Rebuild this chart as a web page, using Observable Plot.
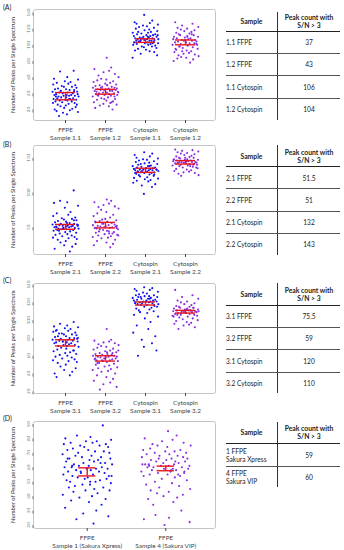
<!DOCTYPE html>
<html><head><meta charset="utf-8">
<script src="https://cdn.jsdelivr.net/npm/d3@7"></script>
<script src="https://cdn.jsdelivr.net/npm/@observablehq/plot@0.6"></script>
<style>
body{margin:0;background:#fff;width:344px;height:550px;position:relative;overflow:hidden;font-family:Lato,"Open Sans",sans-serif;}
.pl{position:absolute;left:0;}
.lab{position:absolute;left:3px;font-size:7px;color:#222;line-height:8px;}
table{position:absolute;left:226px;width:114px;border-collapse:collapse;font-size:6.6px;color:#222;table-layout:fixed;}
td,th{padding:0;}
th{font-weight:bold;text-align:center;line-height:8px;border-bottom:1.5px solid #222;font-size:6.8px;}
td:first-child,th:first-child{border-right:1.3px solid #333;width:51px;}
td{text-align:center;line-height:8px;}
td:first-child{text-align:left;}
tr.r td{border-bottom:1.2px solid #555;}
</style></head><body>
<div class="lab" style="top:3px">(A)</div>
<div class="lab" style="top:140px">(B)</div>
<div class="lab" style="top:276px">(C)</div>
<div class="lab" style="top:414px">(D)</div>
<div id="pA" class="pl" style="top:0px"></div>
<div id="pB" class="pl" style="top:136px"></div>
<div id="pC" class="pl" style="top:274px"></div>
<div id="pD" class="pl" style="top:412px"></div>
<div id="tables"></div>
<script>
// ---------- data ----------
const labelsA = ["FFPE\nSample 1.1","FFPE\nSample 1.2","Cytospin\nSample 1.1","Cytospin\nSample 1.2"];
const labelsB = ["FFPE\nSample 2.1","FFPE\nSample 2.2","Cytospin\nSample 2.1","Cytospin\nSample 2.2"];
const labelsC = ["FFPE\nSample 3.1","FFPE\nSample 3.2","Cytospin\nSample 3.1","Cytospin\nSample 3.2"];
const labelsD = ["FFPE\nSample 1 (Sakura Xpress)","FFPE\nSample 4 (Sakura VIP)"];

const ticksA = [20,40,60,80,100,120,140];
const ticksB = [50,100,150];
const ticksC = [20,40,60,80,100,120,140];
const ticksD = [20,30,40,50,60,70,80,90];

const A_FFPE11 = [68,67,60,58,57,55,54,53,52,51,50,49,48,48,47,46,45,45,44,44,43,42,42,41,41,40,40,39,39,38,38,38,37,37,37,36,36,35,35,34,34,33,33,32,32,31,31,30,30,29,28,28,27,26,26,25,24,23,22,21,20,19,18,17,16,14,12,42,36,33];
const A_FFPE12 = [84,72,70,68,66,64,62,60,58,57,56,55,54,53,52,51,50,50,49,48,48,47,47,46,46,45,45,44,44,44,43,43,43,42,42,41,41,40,40,39,39,38,38,37,37,36,35,34,33,32,31,30,29,28,27,26,25,24,22,20,45,41,38,50,47,36,33,29];
const A_CYTO11 = [137,130,128,127,126,125,124,123,122,121,120,119,118,117,116,116,115,115,114,113,113,112,112,111,111,110,110,109,109,108,108,108,107,107,107,106,106,106,105,105,105,104,104,104,103,103,102,102,101,101,100,100,99,98,98,97,96,95,94,93,92,91,89,87,84,110,104,102,108,112];
const A_CYTO12 = [128,126,124,122,121,120,119,118,117,116,115,114,113,112,112,111,110,110,109,108,108,107,107,106,106,105,105,104,104,103,103,102,102,101,100,100,99,98,97,96,95,94,93,92,91,90,89,88,87,86,85,84,83,82,80,78,106,101,98,110,95,113,92];

const B_FFPE21 = [103,88,86,85,81,78,72,70,68,66,64,63,62,61,60,59,58,57,56,55,55,54,54,53,53,52,52,52,51,51,51,50,50,49,49,48,48,47,47,46,46,45,44,43,42,41,40,39,38,37,36,35,34,33,32,30,28,26,24,22,19,15,50,53,48,56,45,60];
const B_FFPE22 = [90,88,86,84,82,80,79,77,75,72,70,68,66,64,62,60,59,58,57,56,55,54,53,53,52,52,51,51,51,50,50,49,49,48,47,46,45,44,43,42,41,40,39,38,37,36,35,34,32,30,28,26,24,21,55,49,47,44,58,41,61,38];
const B_CYTO21 = [158,156,154,152,150,149,148,147,146,145,144,143,142,141,140,139,138,138,137,136,136,135,135,134,134,133,133,133,132,132,132,131,131,130,130,129,129,128,128,127,126,125,124,123,122,121,120,119,118,117,116,114,112,110,108,98,133,130,135,128,138,126,141];
const B_CYTO22 = [162,161,160,159,158,157,156,155,154,153,152,151,150,150,149,148,148,147,147,146,146,145,145,144,144,144,143,143,143,142,142,141,141,140,140,139,139,138,137,136,135,134,133,132,131,130,129,128,127,125,124,145,142,140,147,138,150,136,144];

const C_FFPE31 = [98,96,94,93,92,91,90,89,88,87,86,85,84,84,83,82,82,81,80,80,79,79,78,78,77,77,76,76,75,75,74,74,73,72,72,71,70,69,68,67,66,65,64,63,62,61,60,59,58,57,56,55,54,53,52,50,48,46,44,42,40,38,36,80,76,71,85,66,88];
const C_FFPE32 = [90,78,77,76,75,74,73,72,71,70,69,68,67,66,65,64,63,62,62,61,61,60,60,59,59,59,58,58,57,57,56,56,55,55,54,54,53,52,51,50,49,48,47,46,45,44,43,42,40,38,36,34,32,30,28,25,22,60,57,63,55,66,52,64];
const C_CYTO31 = [137,136,135,134,133,132,131,130,129,128,128,127,127,126,126,125,125,124,124,123,123,122,122,122,121,121,121,120,120,120,119,119,118,118,117,117,116,115,114,113,112,111,110,109,108,106,104,102,98,94,90,86,82,78,74,70,66,60,121,119,124,117,126,115];
const C_CYTO32 = [134,128,126,124,122,121,120,119,118,117,116,115,115,114,114,113,113,112,112,111,111,111,110,110,110,109,109,109,108,108,107,107,106,106,105,105,104,103,102,101,100,99,98,97,96,95,94,92,90,110,108,112,106,114,104,111,109];

const D_S1 = [89,82,81,80,79,78,78,77,77,76,76,75,75,74,74,73,72,72,71,71,70,70,69,68,68,67,67,66,66,65,65,64,64,63,63,62,62,61,61,60,60,60,59,59,59,58,58,57,57,56,56,55,55,54,54,53,53,52,52,51,51,50,50,49,48,48,47,46,46,45,44,44,43,42,41,40,39,38,37,36,34,32,30,28,26,24,21,66,63,57,54,61,50];
const D_S4 = [85,82,80,79,78,77,76,75,75,74,73,72,72,71,71,70,70,69,69,68,68,67,67,66,66,65,65,64,64,63,63,62,62,62,61,61,61,60,60,60,59,59,59,58,58,57,57,56,56,55,55,54,54,53,52,51,50,49,48,47,46,45,44,43,42,41,40,39,38,36,34,30,27,25,24,22,20,64,61,58,62,57,66,55];

// error bars (low, high) per group
const barsA = [[32,41],[39,45],[103,107.5],[100,106]];
const barsB = [[47,54],[49,57],[129,135],[141,146]];
const barsC = [[71,78],[54,60],[117,120.5],[108,111]];
const barsD = [[54,59.6],[57.6,60.8]];

// table contents
const tableHead = ["Sample", "Peak count with<br>S/N &gt; 3"];
const tableA = [["1.1 FFPE","37"],["1.2 FFPE","43"],["1.1 Cytospin","106"],["1.2 Cytospin","104"]];
const tableB = [["2.1 FFPE","51.5"],["2.2 FFPE","51"],["2.1 Cytospin","132"],["2.2 Cytospin","143"]];
const tableC = [["3.1 FFPE","75.5"],["3.2 FFPE","59"],["3.1 Cytospin","120"],["3.2 Cytospin","110"]];
const tableD = [["1 FFPE<br>Sakura Xpress","59"],["4 FFPE<br>Sakura VIP","60"]];

// hand-set jitter offsets (unit range)
const jitter = [0.62,-0.41,0.13,-0.87,0.95,-0.05,0.38,-0.66,0.21,-0.93,0.74,-0.28,0.49,-0.12,0.83,-0.57,0.04,-0.79,0.31,0.66,-0.36,0.88,-0.98,0.17,-0.47,0.55,-0.21,0.92,-0.71,0.09,0.43,-0.84,0.27,-0.15,0.71,-0.53,0.99,-0.33,0.06,-0.62,0.58,-0.9,0.35,-0.02,0.81,-0.44,0.14,-0.76,0.47,-0.25,0.69,-0.95,0.23,0.86,-0.59,0.02,-0.38,0.77,-0.1,0.51,-0.82,0.33,-0.68,0.94,-0.19,0.11,-0.49,0.64,-0.73,0.28,-0.07,0.89,-0.55,0.41,-0.97,0.19,-0.31,0.73,-0.64,0.07,0.57,-0.88,0.36,-0.16,0.84,-0.43,0.25,-0.78,0.53,-0.26,0.97,-0.6,0.12,-0.35,0.68,-0.09,0.45,-0.7,0.3,-0.5];

// ---------- drawing ----------
const BLUE = "#1111ee", PURPLE = "#8a2be2", RED = "#e8141c";

function panel(el, cfg) {
  const pts = [];
  cfg.groups.forEach((vals, gi) => vals.forEach((v, i) => pts.push({
    g: gi + 1, v, j: jitter[(i + gi * 29) % jitter.length], c: gi % 2 ? PURPLE : BLUE
  })));
  const bars = cfg.bars.map(([lo, hi], gi) => ({g: gi + 1, lo, hi}));
  const caps = bars.flatMap(b => [{g: b.g, v: b.lo}, {g: b.g, v: b.hi}]);
  const chart = Plot.plot({
    width: 220, height: cfg.h,
    marginLeft: 33, marginRight: 5, marginTop: 9, marginBottom: 22,
    style: {fontFamily: "Lato, 'Open Sans', sans-serif", background: "transparent", overflow: "visible"},
    x: {domain: cfg.xd, axis: null},
    y: {domain: cfg.yd, axis: null},
    color: {type: "identity"},
    marks: [
      Plot.frame({stroke: "#c4c4c4", strokeWidth: 1, rx: 2}),
      Plot.axisY(cfg.yt, {tickSize: 3, tickPadding: 1, rotate: -90, textAnchor: "middle", lineAnchor: "bottom",
        fontSize: 4.6, color: "#777", label: null}),
      Plot.text(["Number of Peaks per Single Spectrum"], {frameAnchor: "left", textAnchor: "middle", dx: -20, rotate: -90, fontSize: 5.8, fill: "#333"}),
      Plot.axisX(cfg.groups.map((_, i) => i + 1), {tickFormat: i => cfg.labels[i - 1], tickSize: 3, tickPadding: 2,
        fontSize: 6.4, lineHeight: 1.35, color: "#444", label: null}),
      Plot.dot(pts, {x: d => d.g + d.j * cfg.jw, y: "v", r: 1.05, fill: "c", stroke: null}),
      Plot.ruleX(bars, {x: "g", y1: "lo", y2: "hi", stroke: RED, strokeWidth: 1.4}),
      Plot.ruleY(caps, {y: "v", x1: d => d.g - cfg.cw, x2: d => d.g + cfg.cw, stroke: RED, strokeWidth: 1.4})
    ]
  });
  document.getElementById(el).appendChild(chart);
}

panel("pA", {groups: [A_FFPE11, A_FFPE12, A_CYTO11, A_CYTO12], labels: labelsA, bars: barsA, yt: ticksA,
  yd: [6.4, 143.7], xd: [0.2, 4.75], jw: 0.33, cw: 0.25, h: 142});
panel("pB", {groups: [B_FFPE21, B_FFPE22, B_CYTO21, B_CYTO22], labels: labelsB, bars: barsB, yt: ticksB,
  yd: [10.7, 167.7], xd: [0.2, 4.75], jw: 0.33, cw: 0.25, h: 140});
panel("pC", {groups: [C_FFPE31, C_FFPE32, C_CYTO31, C_CYTO32], labels: labelsC, bars: barsC, yt: ticksC,
  yd: [17.6, 141.2], xd: [0.2, 4.75], jw: 0.33, cw: 0.25, h: 141});
panel("pD", {groups: [D_S1, D_S4], labels: labelsD, bars: barsD, yt: ticksD,
  yd: [17.6, 91.7], xd: [0.316, 2.633], jw: 0.32, cw: 0.11, h: 138});

function table(top, headH, rowHs, rows) {
  let h = `<table style="top:${top}px"><tr style="height:${headH}px"><th>${tableHead[0]}</th><th>${tableHead[1]}</th></tr>`;
  rows.forEach((r, i) => {
    h += `<tr class="${i < rows.length - 1 ? "r" : ""}" style="height:${rowHs[i]}px"><td>${r[0]}</td><td>${r[1]}</td></tr>`;
  });
  return h + "</table>";
}
document.getElementById("tables").innerHTML =
  table(12, 19, [22, 22, 23, 22], tableA) +
  table(145, 21.7, [22.3, 22.3, 22.3, 21], tableB) +
  table(283, 22, [22, 22, 23, 21], tableC) +
  table(422, 21, [23, 21], tableD);
</script>
</body></html>
